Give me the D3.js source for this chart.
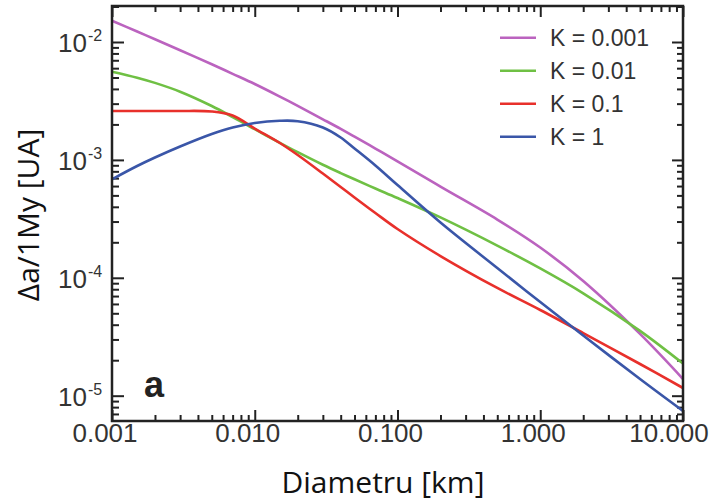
<!DOCTYPE html>
<html>
<head>
<meta charset="utf-8">
<script src="https://cdn.jsdelivr.net/npm/d3@7"></script>
<style>
  body { margin: 0; background: #fff; }
  svg { display: block; }
</style>
</head>
<body>
<div id="chart"></div>
<script>
// diametre [km] comunes a todas las curvas
var diameters = [0.001, 0.0015, 0.002, 0.003, 0.005, 0.007, 0.01, 0.015, 0.02, 0.03, 0.04, 0.05, 0.07, 0.1, 0.2, 0.5, 1, 2, 5, 10];

// delta a / 1 My [UA] para cada K
var k0001 = [1.516e-2, 1.228e-2, 1.056e-2, 8.52e-3, 6.47e-3, 5.37e-3, 4.40e-3, 3.44e-3, 2.87e-3, 2.21e-3, 1.832e-3, 1.573e-3, 1.249e-3, 9.73e-4, 5.93e-4, 3.12e-4, 1.807e-4, 9.39e-5, 3.34e-5, 1.385e-5];
var k001 = [5.60e-3, 4.98e-3, 4.50e-3, 3.79e-3, 2.865e-3, 2.31e-3, 1.821e-3, 1.396e-3, 1.162e-3, 9.09e-4, 7.73e-4, 6.85e-4, 5.72e-4, 4.75e-4, 3.25e-4, 1.875e-4, 1.201e-4, 7.39e-5, 3.545e-5, 1.872e-5];
var k01 = [2.60e-3, 2.60e-3, 2.60e-3, 2.60e-3, 2.573e-3, 2.38e-3, 1.846e-3, 1.391e-3, 1.100e-3, 7.66e-4, 5.89e-4, 4.80e-4, 3.545e-4, 2.594e-4, 1.530e-4, 8.20e-5, 5.33e-5, 3.40e-5, 1.857e-5, 1.162e-5];
var k1 = [6.85e-4, 8.88e-4, 1.048e-3, 1.299e-3, 1.658e-3, 1.883e-3, 2.056e-3, 2.146e-3, 2.129e-3, 1.883e-3, 1.549e-3, 1.249e-3, 8.96e-4, 6.12e-4, 2.944e-4, 1.211e-4, 6.23e-5, 3.24e-5, 1.385e-5, 7.42e-6];

var seriesNames = ["K = 0.001", "K = 0.01", "K = 0.1", "K = 1"];
var seriesValues = [k0001, k001, k01, k1];
var seriesColors = ["#bb63bf", "#6fc044", "#e8302b", "#3a56a8"];

var xTickValues = [0.001, 0.01, 0.1, 1, 10];
var xTickLabels = ["0.001", "0.010", "0.100", "1.000", "10.000"];
var yTickValues = [1e-2, 1e-3, 1e-4, 1e-5];
var yTickExps = ["-2", "-3", "-4", "-5"];

var width = 714, height = 502;
// ojo: "top" es window.top, no se puede usar como variable global
var plotL = 112, plotR = 683, plotT = 6, plotB = 421;

var svg = d3.select("#chart").append("svg")
    .attr("width", width)
    .attr("height", height);

var x = d3.scaleLog().domain([0.001, 10]).range([plotL, plotR]);
var y = d3.scaleLog().domain([6.1e-6, 2.02e-2]).range([plotB, plotT]);

// ticks menores: todos los multiplos 1..9 que no son potencias de 10
var isMajor = function (v) { return Math.abs(Math.log10(v) - Math.round(Math.log10(v))) < 1e-6; };
var xMinor = x.ticks().filter(function (v) { return !isMajor(v); });
var yMinor = y.ticks().filter(function (v) { return !isMajor(v) && v >= y.domain()[0] && v <= y.domain()[1]; });

var axisColor = "#222";

function drawAxis(axisFn, transform, values, size) {
    var g = svg.append("g")
        .attr("transform", transform)
        .call(axisFn.tickValues(values).tickSizeInner(size).tickSizeOuter(0).tickFormat(""));
    g.select(".domain").remove();
    g.selectAll(".tick line").attr("stroke", axisColor).attr("stroke-width", 2);
    return g;
}

// bottom / top
drawAxis(d3.axisBottom(x), "translate(0," + plotB + ")", xTickValues, -11);
drawAxis(d3.axisBottom(x), "translate(0," + plotB + ")", xMinor, -6);
drawAxis(d3.axisTop(x), "translate(0," + plotT + ")", xTickValues, -11);
drawAxis(d3.axisTop(x), "translate(0," + plotT + ")", xMinor, -6);
// left / right
drawAxis(d3.axisLeft(y), "translate(" + plotL + ",0)", yTickValues, -12);
drawAxis(d3.axisLeft(y), "translate(" + plotL + ",0)", yMinor, -7);
drawAxis(d3.axisRight(y), "translate(" + plotR + ",0)", yTickValues, -11);
drawAxis(d3.axisRight(y), "translate(" + plotR + ",0)", yMinor, -6);

// curvas
var line = d3.line()
    .x(function (d) { return x(d[0]); })
    .y(function (d) { return y(d[1]); })
    .curve(d3.curveCatmullRom.alpha(0.5));

var plot = svg.append("g");
seriesValues.forEach(function (vals, i) {
    var pts = diameters.map(function (d, j) { return [d, vals[j]]; });
    plot.append("path")
        .datum(pts)
        .attr("fill", "none")
        .attr("stroke", seriesColors[i])
        .attr("stroke-width", 2.6)
        .attr("stroke-linejoin", "round")
        .attr("d", line);
});

// marco
svg.append("rect")
    .attr("x", plotL).attr("y", plotT)
    .attr("width", plotR - plotL).attr("height", plotB - plotT)
    .attr("fill", "none")
    .attr("stroke", axisColor)
    .attr("stroke-width", 2.5);

// etiquetas eje x (un poco a la izquierda del tick, la ultima no se sale)
svg.selectAll(".xlab")
    .data(xTickValues)
    .enter().append("text")
    .attr("x", function (d) { return Math.min(x(d) - 7, 669); })
    .attr("y", 442)
    .attr("text-anchor", "middle")
    .attr("font-family", "Liberation Sans, Arial, sans-serif")
    .attr("font-size", 26)
    .attr("fill", "#333")
    .text(function (d, i) { return xTickLabels[i]; });

// etiquetas eje y (10 con exponente)
yTickValues.forEach(function (v, i) {
    var ty = y(v);
    svg.append("text")
        .attr("x", 87).attr("y", ty + 10)
        .attr("text-anchor", "end")
        .attr("font-family", "Liberation Sans, Arial, sans-serif")
        .attr("font-size", 26)
        .attr("fill", "#333")
        .text("10");
    svg.append("text")
        .attr("x", 88).attr("y", ty - 1)
        .attr("font-family", "Liberation Sans, Arial, sans-serif")
        .attr("font-size", 16)
        .attr("fill", "#333")
        .text(yTickExps[i]);
});

// titulos
svg.append("text")
    .attr("x", 383).attr("y", 493)
    .attr("text-anchor", "middle")
    .attr("font-family", "Open Sans, sans-serif")
    .attr("font-size", 30)
    .attr("fill", "#111")
    .text("Diametru [km]");

svg.append("text")
    .attr("transform", "translate(39,215) rotate(-90)")
    .attr("text-anchor", "middle")
    .attr("font-family", "Open Sans, sans-serif")
    .attr("font-size", 30)
    .attr("fill", "#111")
    .text("\u0394a/1My [UA]");

// letra del panel
svg.append("text")
    .attr("x", 144).attr("y", 397)
    .attr("font-family", "Liberation Sans, Arial, sans-serif")
    .attr("font-weight", "bold")
    .attr("font-size", 36)
    .attr("fill", "#222")
    .text("a");

// leyenda
var legend = svg.append("g");
seriesNames.forEach(function (name, i) {
    var ly = 37.7 + i * 33;
    legend.append("line")
        .attr("x1", 500).attr("x2", 536)
        .attr("y1", ly).attr("y2", ly)
        .attr("stroke", seriesColors[i])
        .attr("stroke-width", 2.5);
    legend.append("text")
        .attr("x", 550).attr("y", ly + 8)
        .attr("font-family", "Liberation Sans, Arial, sans-serif")
        .attr("font-size", 23)
        .attr("fill", "#333")
        .text(name);
});
</script>
</body>
</html>
